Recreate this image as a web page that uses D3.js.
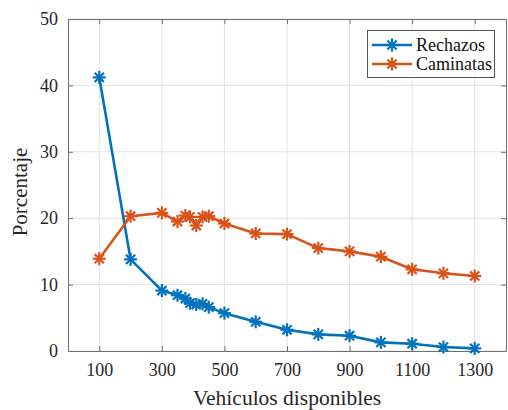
<!DOCTYPE html>
<html><head><meta charset="utf-8">
<script src="https://cdn.jsdelivr.net/npm/d3@7"></script>
<style>body{margin:0;background:#fff}svg{display:block}</style>
</head><body>
<script>
const vehiculos = [100, 200, 300, 350, 375, 390, 410, 430, 450, 500, 600, 700, 800, 900, 1000, 1100, 1200, 1300];
const rechazos  = [41.2, 13.8, 9.1, 8.4, 7.9, 7.2, 7.0, 7.1, 6.6, 5.7, 4.4, 3.2, 2.5, 2.3, 1.3, 1.1, 0.6, 0.4];
const caminatas = [13.9, 20.3, 20.8, 19.5, 20.4, 20.2, 18.9, 20.2, 20.3, 19.2, 17.7, 17.6, 15.5, 15.0, 14.2, 12.3, 11.7, 11.3];
const xTicks = [100, 300, 500, 700, 900, 1100, 1300];
const yTicks = [0, 10, 20, 30, 40, 50];
const seriesNames = ["Rechazos", "Caminatas"];
const colors = ["#0072BD", "#D95319"];

const W = 508, H = 410;
const m = {l: 68, r: 2, t: 19, b: 59};
const svg = d3.select("body").append("svg").attr("width", W).attr("height", H);
const x = d3.scaleLinear().domain([0, 1400]).range([m.l, W - m.r]);
const y = d3.scaleLinear().domain([0, 50]).range([H - m.b, m.t]);
const font = "'Liberation Serif', 'Times New Roman', serif";

// grid
const g = svg.append("g");
g.selectAll(".gx").data(xTicks).join("line")
  .attr("x1", d => x(d)).attr("x2", d => x(d)).attr("y1", y(0)).attr("y2", y(50))
  .attr("stroke", "#e3e3e3").attr("stroke-width", 1);
g.selectAll(".gy").data(yTicks).join("line")
  .attr("y1", d => y(d)).attr("y2", d => y(d)).attr("x1", x(0)).attr("x2", x(1400))
  .attr("stroke", "#e3e3e3").attr("stroke-width", 1);

// axes
const axCol = "#6e6e6e";
const tl = 5;
const fmt = d3.format("d");
const axBottom = svg.append("g").attr("transform", `translate(0,${y(0)})`)
  .call(d3.axisBottom(x).tickValues(xTicks).tickFormat(fmt).tickSize(-tl).tickPadding(12).tickSizeOuter(0));
const axTop = svg.append("g").attr("transform", `translate(0,${y(50)})`)
  .call(d3.axisTop(x).tickValues(xTicks).tickSize(-tl).tickFormat("").tickSizeOuter(0));
const axLeft = svg.append("g").attr("transform", `translate(${x(0)},0)`)
  .call(d3.axisLeft(y).tickValues(yTicks).tickFormat(fmt).tickSize(-tl).tickPadding(10).tickSizeOuter(0));
const axRight = svg.append("g").attr("transform", `translate(${x(1400)},0)`)
  .call(d3.axisRight(y).tickValues(yTicks).tickSize(-tl).tickFormat("").tickSizeOuter(0));
[axBottom, axTop, axLeft, axRight].forEach(a => {
  a.attr("font-family", font);
  a.selectAll(".domain").attr("stroke", axCol).attr("stroke-width", 1);
  a.selectAll(".tick line").attr("stroke", axCol);
  a.selectAll("text").attr("fill", "#262626").style("font-family", font).style("font-size", "18px");
});

// labels
svg.append("text").attr("x", (x(0) + x(1400)) / 2 - 0).attr("y", 405)
  .attr("text-anchor", "middle").style("font-family", font).style("font-size", "21.5px")
  .attr("fill", "#262626").text("Vehículos disponibles");
svg.append("text").attr("transform", `translate(27,${(y(0) + y(50)) / 2 + 7}) rotate(-90)`)
  .attr("text-anchor", "middle").style("font-family", font).style("font-size", "21px")
  .attr("fill", "#262626").text("Porcentaje");

// marker
function star(sel, cx, cy, col, r) {
  const gg = sel.append("g").attr("transform", `translate(${cx},${cy})`);
  [0, 45, 90, 135].forEach(a => {
    const rad = a * Math.PI / 180;
    gg.append("line")
      .attr("x1", -r * Math.cos(rad)).attr("y1", -r * Math.sin(rad))
      .attr("x2", r * Math.cos(rad)).attr("y2", r * Math.sin(rad))
      .attr("stroke", col).attr("stroke-width", 2.2);
  });
}

const series = [rechazos, caminatas];
const line = d3.line().x(d => x(d[0])).y(d => y(d[1]));
series.forEach((vals, i) => {
  const pts = vehiculos.map((v, j) => [v, vals[j]]);
  svg.append("path").attr("d", line(pts)).attr("fill", "none")
    .attr("stroke", colors[i]).attr("stroke-width", 2.6).attr("stroke-linejoin", "round");
  const mg = svg.append("g");
  pts.forEach(p => star(mg, x(p[0]), y(p[1]), colors[i], 6.5));
});

// legend
const lg = svg.append("g");
lg.append("rect").attr("x", 367.5).attr("y", 30.5).attr("width", 127).attr("height", 47)
  .attr("fill", "#fff").attr("stroke", "#555").attr("stroke-width", 1);
seriesNames.forEach((n, i) => {
  const yy = 45 + i * 19;
  lg.append("line").attr("x1", 372).attr("x2", 412).attr("y1", yy).attr("y2", yy)
    .attr("stroke", colors[i]).attr("stroke-width", 2.6);
  star(lg, 392, yy, colors[i], 6.5);
  lg.append("text").attr("x", 416).attr("y", yy + 6).style("font-family", font)
    .style("font-size", "18px").attr("fill", "#111").text(n);
});
</script>
</body></html>
